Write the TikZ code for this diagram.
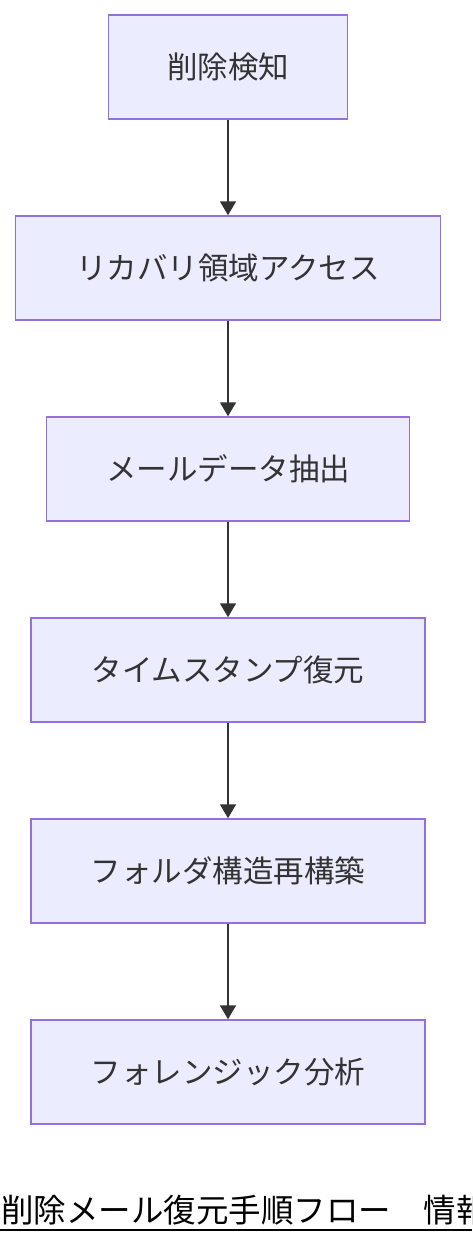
\documentclass[tikz,border=0pt]{standalone}
\usepackage{fontspec}
\setmainfont{Noto Sans CJK JP}
\usetikzlibrary{arrows.meta}
\definecolor{boxfill}{HTML}{ECECFF}
\definecolor{boxline}{HTML}{9370DB}
\definecolor{txt}{HTML}{333333}
\begin{document}
\begin{tikzpicture}[x=1pt,y=-1pt,
  stepbox/.style={draw=boxline,fill=boxfill,line width=1.5pt,text=txt,
    font=\fontsize{30.5}{36}\selectfont,inner sep=0pt,rectangle},
  conn/.style={draw=txt,line width=1.8pt,-{Triangle[length=14pt,width=16pt]}}]
\useasboundingbox (0,0) rectangle (472,1244);
\node[stepbox,minimum width=239pt,minimum height=104pt] (n1) at (228,67) {削除検知};
\node[stepbox,minimum width=425pt,minimum height=104pt] (n2) at (228,268) {リカバリ領域アクセス};
\node[stepbox,minimum width=363pt,minimum height=104pt] (n3) at (228,469) {メールデータ抽出};
\node[stepbox,minimum width=394pt,minimum height=104pt] (n4) at (228,670) {タイムスタンプ復元};
\node[stepbox,minimum width=394pt,minimum height=104pt] (n5) at (228,871) {フォルダ構造再構築};
\node[stepbox,minimum width=394pt,minimum height=104pt] (n6) at (228,1072) {フォレンジック分析};
\draw[conn] (n1) -- (n2);
\draw[conn] (n2) -- (n3);
\draw[conn] (n3) -- (n4);
\draw[conn] (n4) -- (n5);
\draw[conn] (n5) -- (n6);
\node[anchor=base west,inner sep=0pt,font=\fontsize{32.5}{38}\selectfont] (title) at (1,1222) {削除メール復元手順フロー　情報};
\coordinate (ul1) at (0,1230);
\coordinate (ul2) at (472,1230);
\draw[line width=2pt] (ul1) -- (ul2);
\end{tikzpicture}
\end{document}
